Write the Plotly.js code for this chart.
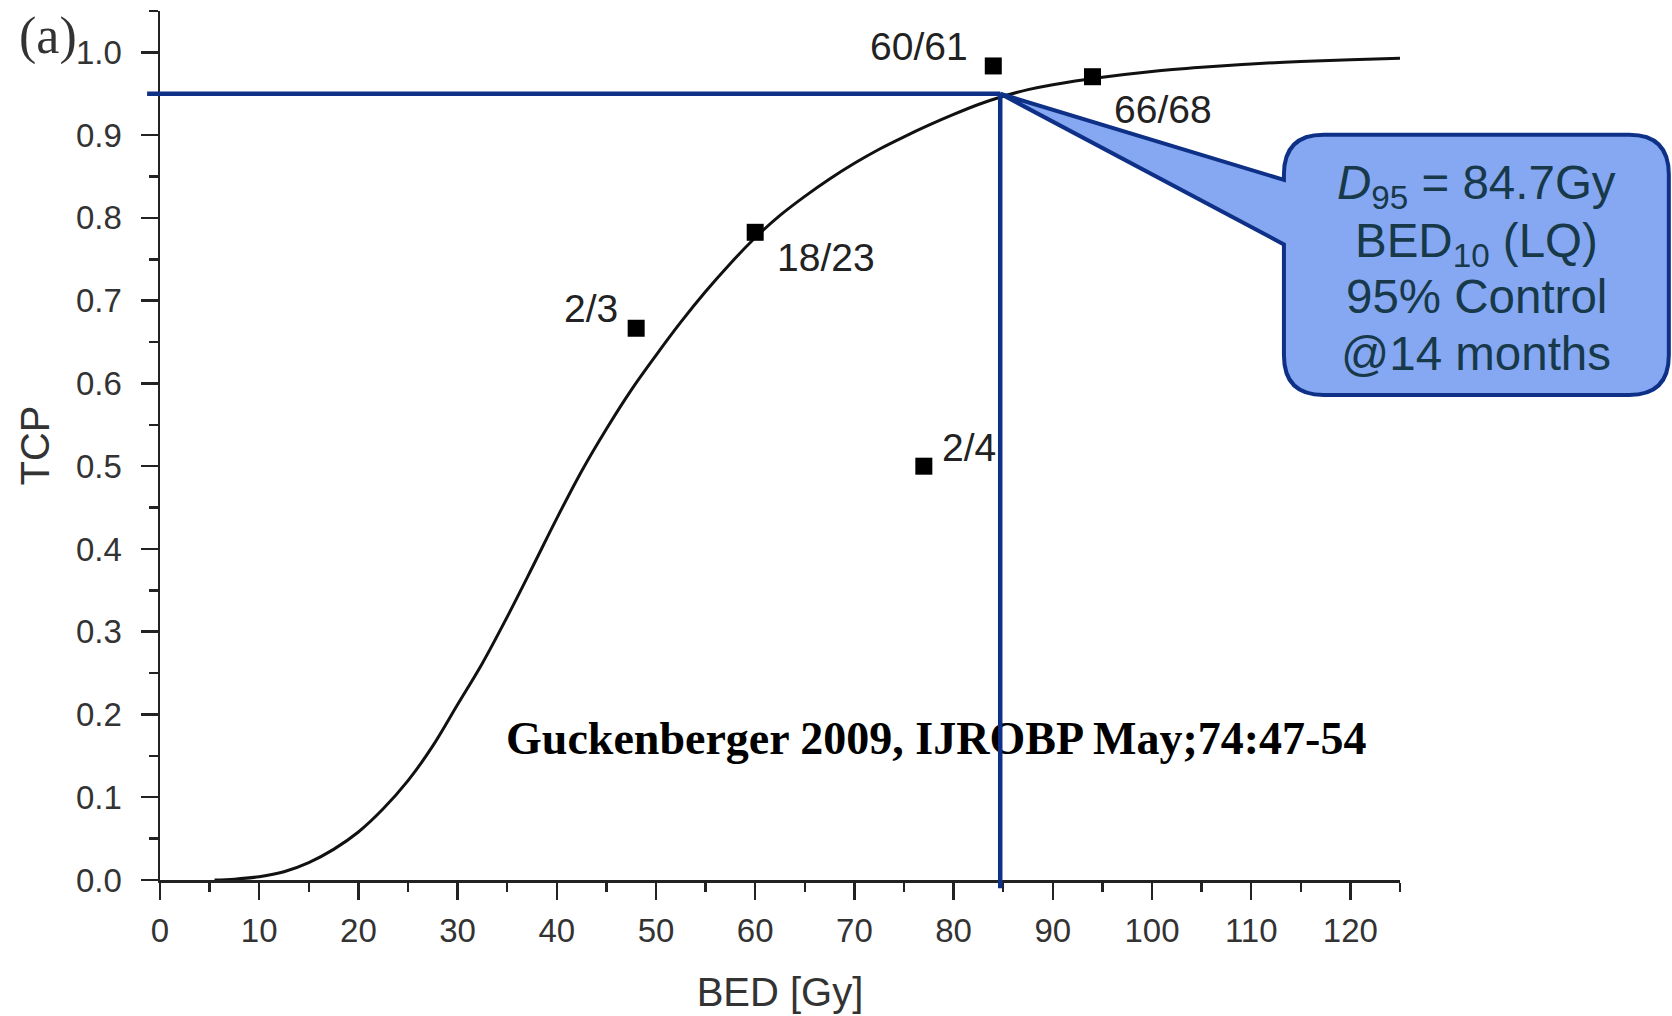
<!DOCTYPE html>
<html>
<head>
<meta charset="utf-8">
<script src="https://cdn.plot.ly/plotly-3.0.1.min.js"></script>
<style>
  html, body { margin: 0; padding: 0; background: #ffffff; }
  #chart { width: 1672px; height: 1016px; }
</style>
</head>
<body>
<div id="chart"></div>
<script>
// Fitted tumour control probability curve (BED in Gy vs TCP)
const curveBED = [5.5, 7.5, 10, 12.5, 15, 17.5, 20, 22.5, 25, 27.5, 30, 32.5, 35, 37.5, 40, 42.5, 45, 47.5, 50, 52.5, 55, 57.5, 60, 62.5, 65, 67.5, 70, 72.5, 75, 77.5, 80, 82.5, 85, 87.5, 90, 95, 100, 105, 110, 115, 120, 125];
const curveTCP = [0.0, 0.001, 0.004, 0.010, 0.021, 0.037, 0.058, 0.086, 0.120, 0.162, 0.212, 0.262, 0.318, 0.377, 0.437, 0.494, 0.545, 0.592, 0.634, 0.674, 0.711, 0.745, 0.776, 0.803, 0.826, 0.847, 0.866, 0.883, 0.898, 0.912, 0.925, 0.937, 0.947, 0.955, 0.961, 0.970, 0.977, 0.982, 0.986, 0.989, 0.991, 0.993];

// Observed cohorts: local control / patients at each BED level
const pointBED = [48, 60, 77, 84, 94];
const controlled = [2, 18, 2, 60, 66];
const treated = [3, 23, 4, 61, 68];
const pointLabels = controlled.map((c, i) => c + '/' + treated[i]);
const pointTCP = controlled.map((c, i) => c / treated[i]);

// Dose giving 95 % control
const d95 = 84.7;
const tcpLevel = 0.95;

// Callout text, one entry per line
const calloutLines = ['<i>D</i><sub>95</sub> = 84.7Gy', 'BED<sub>10</sub> (LQ)', '95% Control', '@14 months'];

// Axis ticks
const xTicks = [0, 10, 20, 30, 40, 50, 60, 70, 80, 90, 100, 110, 120];
const yTicks = [0.0, 0.1, 0.2, 0.3, 0.4, 0.5, 0.6, 0.7, 0.8, 0.9, 1.0];

const XR = [0, 125];
const YR = [0, 1.05];
const px = x => (x - XR[0]) / (XR[1] - XR[0]);
const py = y => (y - YR[0]) / (YR[1] - YR[0]);
const pt = (x, y) => px(x).toFixed(5) + ',' + py(y).toFixed(5);

const navy = '#0E3087';
const sans = 'Liberation Sans, Arial, sans-serif';
const serif = 'Liberation Serif, Times New Roman, serif';

// Callout box with a wedge pointing at the D95 point on the curve
const box = { L: 113.3, R: 152.1, T: 0.9005, B: 0.586, rx: 4.0, ry: 0.048, wTop: 0.846, wBot: 0.768 };
const calloutPath = [
  'M', pt(d95, tcpLevel),
  'L', pt(box.L, box.wTop),
  'L', pt(box.L, box.T - box.ry),
  'Q', pt(box.L, box.T), pt(box.L + box.rx, box.T),
  'L', pt(box.R - box.rx, box.T),
  'Q', pt(box.R, box.T), pt(box.R, box.T - box.ry),
  'L', pt(box.R, box.B + box.ry),
  'Q', pt(box.R, box.B), pt(box.R - box.rx, box.B),
  'L', pt(box.L + box.rx, box.B),
  'Q', pt(box.L, box.B), pt(box.L, box.B + box.ry),
  'L', pt(box.L, box.wBot),
  'Z'
].join(' ');

const traces = [
  {
    x: curveBED, y: curveTCP, type: 'scatter', mode: 'lines',
    line: { color: '#111111', width: 3, shape: 'spline', smoothing: 1 },
    hoverinfo: 'skip'
  },
  {
    x: [78.25], y: [0.166], type: 'scatter', mode: 'text',
    text: ['Guckenberger 2009, IJROBP May;74:47-54'],
    textposition: 'middle center',
    textfont: { family: serif, size: 46, color: '#000000', weight: 'bold' },
    hoverinfo: 'skip'
  },
  {
    x: pointBED, y: pointTCP, type: 'scatter', mode: 'markers',
    marker: { symbol: 'square', size: 17, color: '#000000' },
    hoverinfo: 'skip'
  }
];

// Label offsets (pixels) around each cohort marker
const labelShift = [[-45, 20], [71, -25], [45, 19], [-74, 19], [71, -33]];

const annotations = pointLabels.map((t, i) => ({
  x: pointBED[i], y: pointTCP[i], xref: 'x', yref: 'y',
  text: t, showarrow: false, xanchor: 'center', yanchor: 'middle',
  xshift: labelShift[i][0], yshift: labelShift[i][1],
  font: { family: sans, size: 39, color: '#222222' }
}));

// Callout lines, centred in the box
const calloutY = [0.838, 0.768, 0.7056, 0.6356];
calloutLines.forEach((t, i) => annotations.push({
  x: px(132.7), y: py(calloutY[i]), xref: 'paper', yref: 'paper',
  text: t, showarrow: false, xanchor: 'center', yanchor: 'middle', align: 'center',
  font: { family: sans, size: 47.5, color: '#17394A' }
}));

annotations.push({
  x: -0.09, y: 0.9716, xref: 'paper', yref: 'paper',
  text: '(a)', showarrow: false, xanchor: 'center', yanchor: 'middle',
  font: { family: serif, size: 52, color: '#333333' }
});

const axisCommon = {
  showline: true, linecolor: '#222222', linewidth: 2.5,
  showgrid: false, zeroline: false,
  ticks: 'outside', ticklen: 17, tickwidth: 2.5, tickcolor: '#222222',
  tickfont: { family: sans, size: 33, color: '#333333' },
  fixedrange: true
};

const layout = {
  width: 1672, height: 1016,
  margin: { l: 160, r: 272, t: 11, b: 136, pad: 0 },
  paper_bgcolor: '#ffffff', plot_bgcolor: '#ffffff',
  showlegend: false, hovermode: false,
  xaxis: Object.assign({}, axisCommon, {
    range: XR, tickmode: 'array', tickvals: xTicks, ticktext: xTicks.map(String),
    ticklabelstandoff: 3,
    minor: { dtick: 5, tick0: 0, ticks: 'outside', ticklen: 9, tickwidth: 2.5, tickcolor: '#222222', showgrid: false },
    title: { text: 'BED [Gy]', font: { family: sans, size: 40, color: '#333333' }, standoff: 30 }
  }),
  yaxis: Object.assign({}, axisCommon, {
    range: YR, tickmode: 'array', tickvals: yTicks, ticktext: yTicks.map(v => v.toFixed(1)),
    ticklabelstandoff: 12,
    minor: { dtick: 0.05, tick0: 0, ticks: 'outside', ticklen: 9, tickwidth: 2.5, tickcolor: '#222222', showgrid: false },
    title: { text: 'TCP', font: { family: sans, size: 40, color: '#333333' }, standoff: 14 }
  }),
  shapes: [
    {
      type: 'path', path: calloutPath, xref: 'paper', yref: 'paper', layer: 'above',
      fillcolor: '#86A8F2', line: { color: navy, width: 4 }
    },
    {
      type: 'line', xref: 'paper', yref: 'paper', layer: 'above',
      x0: px(-1.3), x1: px(d95), y0: py(tcpLevel), y1: py(tcpLevel),
      line: { color: navy, width: 4.5 }
    },
    {
      type: 'line', xref: 'paper', yref: 'paper', layer: 'above',
      x0: px(d95), x1: px(d95), y0: py(tcpLevel), y1: py(-0.01),
      line: { color: navy, width: 4.5 }
    }
  ],
  annotations: annotations
};

Plotly.newPlot('chart', traces, layout, { displayModeBar: false, staticPlot: true });
</script>
</body>
</html>
